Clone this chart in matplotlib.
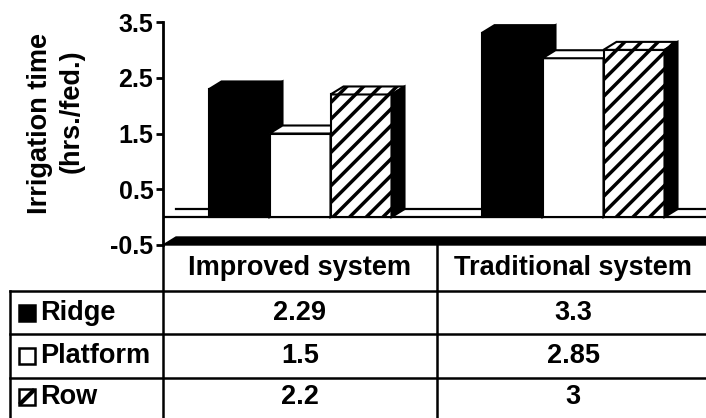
import matplotlib
matplotlib.use("Agg")
import matplotlib.pyplot as plt
from matplotlib.patches import Polygon, Rectangle

plt.rcParams['font.family'] = ['Liberation Sans', 'DejaVu Sans']
plt.rcParams['font.weight'] = 'bold'
plt.rcParams['hatch.linewidth'] = 2.5

systems = ["Improved system", "Traditional system"]
methods = ["Ridge", "Platform", "Row"]
ridge = [2.29, 3.3]
platform = [1.5, 2.85]
row = [2.2, 3]
yticks = [-0.5, 0.5, 1.5, 2.5, 3.5]

W, H = 706, 418
fig = plt.figure(figsize=(W / 100, H / 100), dpi=100)

# table layer in pixel coordinates
tab = fig.add_axes([0, 0, 1, 1])
tab.set_xlim(0, W)
tab.set_ylim(H, 0)
tab.axis('off')

# chart axes (x in pixel-like units, y in data values)
ax_left, ax_top, ax_bot = 163, 22, 245
ax = fig.add_axes([ax_left / W, (H - ax_bot) / H, (W - ax_left) / W, (ax_bot - ax_top) / H])
ax.set_xlim(ax_left, W)
ax.set_ylim(-0.5, 3.5)
ax.patch.set_alpha(0)

px_per_unit = (ax_bot - ax_top) / 4.0
DX = 13
DY = 8 / px_per_unit

series = [ridge, platform, row]
styles = [dict(fc='black', hatch=None, top='black'),
          dict(fc='white', hatch=None, top='white'),
          dict(fc='white', hatch='//', top='white')]
centers = [300, 573]
bw = 61

# floor lines
ax.plot([ax_left + DX, W], [DY, DY], color='black', lw=1.6, zorder=1)
ax.plot([ax_left, W], [0, 0], color='black', lw=1.6, zorder=1)
ax.add_patch(Polygon([(ax_left, -0.5), (ax_left + DX, -0.5 + DY), (W, -0.5 + DY), (W, -0.5)],
                     closed=True, fc='black', ec='black', clip_on=False, zorder=3))

z = 2
for g, c in enumerate(centers):
    for i, vals in enumerate(series):
        h = vals[g]
        st = styles[i]
        x0 = c - 1.5 * bw + i * bw
        ax.bar(x0, h, width=bw, bottom=0, align='edge', color=st['fc'],
               edgecolor='black', linewidth=1.5, hatch=st['hatch'], zorder=z)
        ax.add_patch(Polygon([(x0, h), (x0 + bw, h), (x0 + bw + DX, h + DY), (x0 + DX, h + DY)],
                             closed=True, fc=st['top'], ec='black', lw=1.5,
                             hatch=st['hatch'], zorder=z))
        ax.add_patch(Polygon([(x0 + bw, 0), (x0 + bw + DX, DY), (x0 + bw + DX, h + DY), (x0 + bw, h)],
                             closed=True, fc='black', ec='black', lw=1.5, zorder=z))
        z += 1

for s in ['top', 'right', 'bottom']:
    ax.spines[s].set_visible(False)
ax.spines['left'].set_linewidth(2)
ax.set_xticks([])
ax.set_yticks(yticks)
ax.set_yticklabels([f"{t:g}" for t in yticks], fontsize=18, fontweight='bold')
ax.tick_params(axis='y', length=5, width=2, pad=2)

fig.text(40 / W, 1 - 124 / H, "Irrigation time", rotation=90, ha='center', va='center',
         fontsize=19.5, fontweight='bold')
fig.text(72 / W, 1 - 111 / H, "(hrs./fed.)", rotation=90, ha='center', va='center',
         fontsize=19.5, fontweight='bold')

# data table
lw = 1.8
tab.plot([ax_left, ax_left], [ax_bot, H], color='black', lw=lw)
tab.plot([437, 437], [ax_bot, H], color='black', lw=lw)
tab.plot([10, 10], [291, H], color='black', lw=lw)
for yy in [291, 334, 378]:
    tab.plot([10, W], [yy, yy], color='black', lw=lw)

for g, name in enumerate(systems):
    tab.text(centers[g], 268, name, ha='center', va='center', fontsize=19.5, fontweight='bold')

row_y = [313, 356, 397]
for i, name in enumerate(methods):
    y = row_y[i]
    fc = 'black' if i == 0 else 'white'
    tab.add_patch(Rectangle((19, y - 8), 16, 16, fc=fc, ec='black', lw=1.8))
    if i == 2:
        tab.plot([21, 33], [y + 6, y - 6], color='black', lw=3)
    tab.text(40, y, name, ha='left', va='center', fontsize=19.5, fontweight='bold')
    for g in range(len(systems)):
        tab.text(centers[g], y, f"{series[i][g]:g}", ha='center', va='center',
                 fontsize=19.5, fontweight='bold')

fig.savefig("out.png", dpi=100)
